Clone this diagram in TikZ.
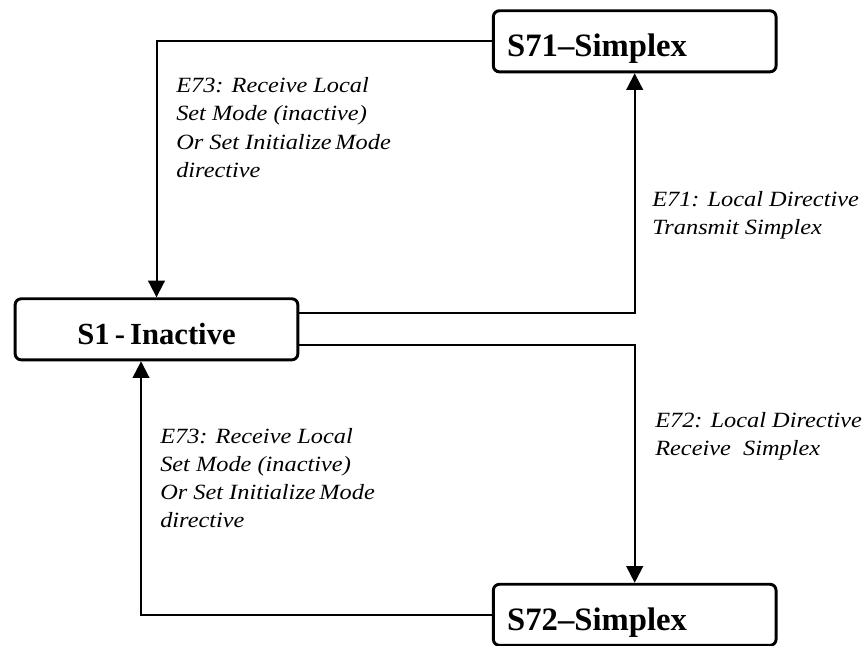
\documentclass[tikz,border=0pt]{standalone}
\usepackage{fontspec}
\setmainfont{Liberation Serif}
\newfontfamily\evtfont[FakeStretch=1.12]{Liberation Serif}
\usetikzlibrary{arrows.meta}

\tikzset{
  statebox/.style={draw,line width=2.2pt,rounded corners=4.5pt,
    minimum width=212pt,minimum height=45.8pt,inner xsep=10.4pt,inner ysep=0pt,
    text width=191.2pt,text height=22.8pt,text depth=0pt},
  trans/.style={line width=1.5pt,-{Triangle[length=12.5pt,width=12.5pt]}},
  evt/.style={anchor=base west,align=left,inner sep=0pt,
    font=\evtfont\itshape\fontsize{16.3pt}{21.2pt}\selectfont}
}

\begin{document}
\begin{tikzpicture}[x=0.75pt,y=-0.75pt] % pixel grid, 864 x 646
  \useasboundingbox (0,0) rectangle (864,646);
  \node[statebox,align=center,font=\bfseries\fontsize{23pt}{26pt}\selectfont]
    (s1) at (156.5,329.3) {S1\,-\,Inactive};
  \node[statebox,align=left,font=\bfseries\fontsize{24.5pt}{28pt}\selectfont]
    (s71) at (634.7,41.3) {S71--Simplex};
  \node[statebox,align=left,font=\bfseries\fontsize{24.5pt}{28pt}\selectfont]
    (s72) at (634.7,614.8) {S72--Simplex};
  \draw[trans] (s71.west) -| (s1.north);
  \draw[trans] ([yshift=12.4pt]s1.east) -| (s71.south);
  \draw[trans] ([yshift=-11.8pt]s1.east) -| (s72.north);
  \draw[trans] (s72.west) -| ([xshift=-11.6pt]s1.south);
  % base = last line
  \node[evt] (e73a) at (176,177.5) {E73: Receive Local\\Set Mode (inactive)\\Or Set Initialize\,Mode\\directive};
  \node[evt] (e71) at (652,234.5) {E71: Local Directive\\Transmit Simplex};
  \node[evt] (e72) at (655,455.3) {E72: Local Directive\\Receive\ \ Simplex};
  \node[evt] (e73b) at (160,527.8) {E73: Receive Local\\Set Mode (inactive)\\Or Set Initialize\,Mode\\directive};
\end{tikzpicture}
\end{document}
